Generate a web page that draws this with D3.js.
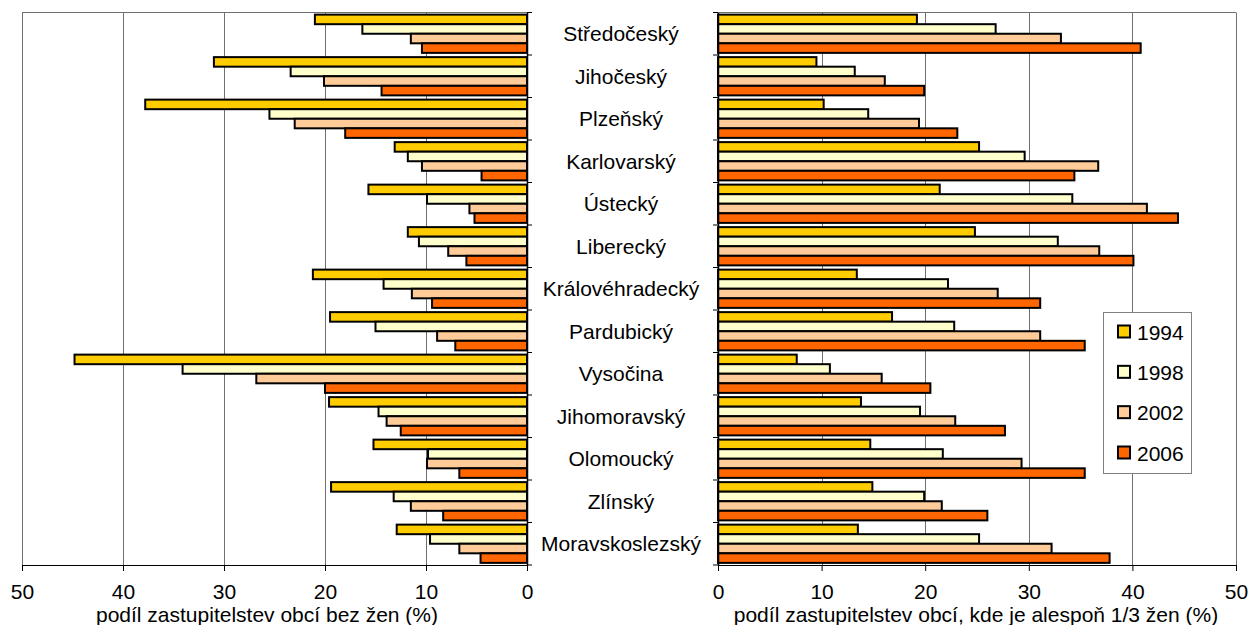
<!DOCTYPE html>
<html>
<head>
<meta charset="utf-8">
<script src="https://cdn.jsdelivr.net/npm/d3@7"></script>
<style>
  html, body { margin: 0; padding: 0; background: #fff; }
  svg { display: block; }
  text { font-family: "Liberation Sans", Arial, sans-serif; fill: #000; }
</style>
</head>
<body>
<svg id="chart" width="1250" height="625"></svg>
<script>
const categories = ["Středočeský","Jihočeský","Plzeňský","Karlovarský","Ústecký","Liberecký","Královéhradecký","Pardubický","Vysočina","Jihomoravský","Olomoucký","Zlínský","Moravskoslezský"];
const years = ["1994","1998","2002","2006"];
const colors = ["#FFCC00","#FFFFCC","#FFCC99","#FF6600"];
const tickValues = [0,10,20,30,40,50];

// left panel: share of municipal councils without women (%)
const noWomen1994 = [21.0,31.0,37.8,13.1,15.7,11.8,21.2,19.5,44.8,19.6,15.2,19.4,12.9];
const noWomen1998 = [16.3,23.4,25.5,11.8,9.9,10.7,14.2,15.0,34.1,14.7,9.8,13.2,9.6];
const noWomen2002 = [11.5,20.1,23.0,10.4,5.7,7.8,11.4,8.9,26.8,13.9,9.9,11.5,6.7];
const noWomen2006 = [10.4,14.4,18.0,4.5,5.2,6.0,9.4,7.1,20.0,12.5,6.7,8.3,4.6];

// right panel: share of councils with at least 1/3 women (%)
const third1994 = [19.2,9.5,10.2,25.2,21.4,24.8,13.4,16.8,7.6,13.8,14.7,14.9,13.5];
const third1998 = [26.8,13.2,14.5,29.6,34.2,32.8,22.2,22.8,10.8,19.5,21.7,19.9,25.2];
const third2002 = [33.1,16.1,19.4,36.7,41.4,36.8,27.0,31.1,15.8,22.9,29.3,21.6,32.2];
const third2006 = [40.8,19.9,23.1,34.4,44.4,40.1,31.1,35.4,20.5,27.7,35.4,26.0,37.8];

const leftTitle = "podíl zastupitelstev obcí bez žen (%)";
const rightTitle = "podíl zastupitelstev obcí, kde je alespoň 1/3 žen (%)";

const svg = d3.select("#chart");
const plotTop = 12.5, plotBottom = 565;

const y = d3.scaleBand().domain(categories).range([plotTop, plotBottom]).paddingInner(0.1).paddingOuter(0.05);
const ySub = d3.scaleBand().domain(years).range([0, y.bandwidth()]);

const xL = d3.scaleLinear().domain([50, 0]).range([22, 527]);
const xR = d3.scaleLinear().domain([0, 50]).range([718, 1236]);

function panel(x, series, side, title, titleX) {
  const g = svg.append("g");
  const [r0, r1] = x.range();
  const xmin = Math.min(r0, r1), xmax = Math.max(r0, r1);
  // gridlines
  g.selectAll("line.grid").data(tickValues).enter().append("line")
    .attr("x1", d => Math.round(x(d)) + 0.5).attr("x2", d => Math.round(x(d)) + 0.5)
    .attr("y1", plotTop).attr("y2", plotBottom)
    .attr("stroke", "#707070").attr("stroke-width", 1);
  // top border
  g.append("line").attr("x1", xmin).attr("x2", xmax).attr("y1", plotTop).attr("y2", plotTop)
    .attr("stroke", "#707070");
  // bars
  series.forEach((vals, si) => {
    g.selectAll(null).data(vals).enter().append("rect")
      .attr("x", d => Math.min(x(0), x(d)))
      .attr("width", d => Math.abs(x(d) - x(0)))
      .attr("y", (d, i) => y(categories[i]) + ySub(years[si]))
      .attr("height", ySub.bandwidth())
      .attr("fill", colors[si])
      .attr("stroke", "#000").attr("stroke-width", 2);
  });
  // x axis
  const ax = g.append("g").attr("transform", `translate(0,${plotBottom})`)
    .call(d3.axisBottom(x).tickValues(tickValues).tickSizeInner(6).tickSizeOuter(0).tickPadding(13));
  ax.select(".domain").attr("stroke", "#000");
  ax.selectAll(".tick line").attr("stroke", "#000");
  ax.selectAll("text").style("font-size", "21px").style("font-family", '"Liberation Sans", Arial, sans-serif');
  // y axis (category side)
  const yAxis = side === "left"
    ? d3.axisRight(y).tickSize(0)
    : d3.axisLeft(y).tickSize(0);
  const ay = g.append("g").attr("transform", `translate(${x(0)},0)`).call(yAxis);
  ay.selectAll("text").remove();
  ay.select(".domain").attr("stroke", "#000").attr("stroke-width", 1.5);
  // category boundary ticks
  const bounds = categories.map((c, i) => plotTop + i * y.step()).concat([plotBottom]);
  const dir = side === "left" ? 1 : -1;
  g.selectAll(null).data(bounds).enter().append("line")
    .attr("x1", x(0)).attr("x2", x(0) + dir * 5)
    .attr("y1", d => d).attr("y2", d => d)
    .attr("stroke", "#000");
  // title
  g.append("text").attr("x", titleX).attr("y", 622).attr("text-anchor", "middle")
    .style("font-size", "21px").text(title);
}

panel(xL, [noWomen1994, noWomen1998, noWomen2002, noWomen2006], "left", leftTitle, 267);
panel(xR, [third1994, third1998, third2002, third2006], "right", rightTitle, 976);

// category labels between panels
svg.selectAll("text.cat").data(categories).enter().append("text")
  .attr("class", "cat")
  .attr("x", 621)
  .attr("y", d => y(d) + y.bandwidth() / 2)
  .attr("dy", "0.36em")
  .attr("text-anchor", "middle")
  .style("font-size", "21px")
  .text(d => d);

// legend
const lg = svg.append("g");
lg.append("rect").attr("x", 1103.5).attr("y", 312.5).attr("width", 88).attr("height", 161)
  .attr("fill", "#fff").attr("stroke", "#808080").attr("stroke-width", 1);
const ly = d3.scalePoint().domain(years).range([332, 453]);
years.forEach((yr, i) => {
  lg.append("rect").attr("x", 1118).attr("y", ly(yr) - 6.5).attr("width", 12).attr("height", 12)
    .attr("fill", colors[i]).attr("stroke", "#000").attr("stroke-width", 2);
  lg.append("text").attr("x", 1137).attr("y", ly(yr)).attr("dy", "0.36em")
    .style("font-size", "21px").text(yr);
});
</script>
</body>
</html>
